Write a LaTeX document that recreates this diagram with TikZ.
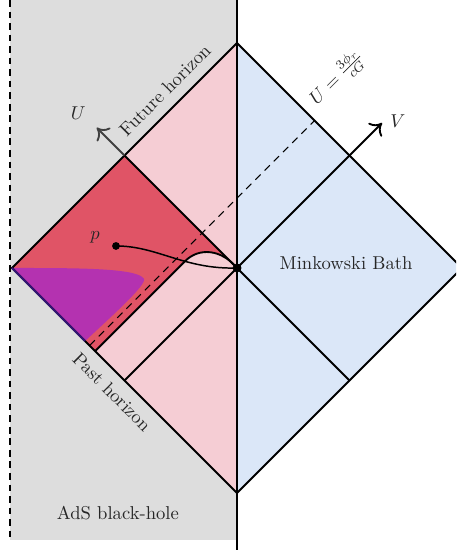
\documentclass[tikz,border=0pt]{standalone}
\usepackage{amsmath,amssymb}
\usetikzlibrary{arrows.meta,calc}
\definecolor{bhgray}{RGB}{221,221,221}
\definecolor{adspink}{RGB}{245,205,212}
\definecolor{bathblue}{RGB}{219,231,248}
\definecolor{islandred}{RGB}{224,84,102}
\definecolor{qesviolet}{RGB}{180,50,176}
\definecolor{qesedge}{RGB}{52,22,118}
\tikzset{
  edge/.style={black,line width=1pt},
  cutoff/.style={black,line width=1.1pt,dash pattern=on 3.6pt off 2.6pt},
  lightray/.style={black,line width=0.5pt,dash pattern=on 4pt off 3pt},
  axis/.style={-{To[length=2mm,width=3.6mm]},line width=1pt},
  geodesic/.style={black,line width=0.8pt},
  dot/.style={circle,fill=black,inner sep=0pt,minimum size=#1},
  lab/.style={font=\normalsize,text=black!85},
}
\begin{document}
\begin{tikzpicture}[x=1cm,y=1cm]
  \useasboundingbox (-4.477,-5.327) rectangle (4.137,5.062);
  \clip (-4.477,-5.327) rectangle (4.137,5.062);

  \coordinate (O) at (0,0);
  \coordinate (top) at (0,4.25);
  \coordinate (bottom) at (0,-4.25);
  \coordinate (left) at (-4.25,0);
  \coordinate (right) at (4.25,0);
  \coordinate (islandtop) at (-2.125,2.125);
  \coordinate (islandbot) at (-2.125,-2.125);
  \coordinate (bathbot) at (2.125,-2.125);
  \coordinate (qes) at (-0.98,0.13);
  \coordinate (pastA) at (-2.68,-1.57);
  \coordinate (pastP) at (-2.87,-1.38);
  \coordinate (rayin) at (-2.785,-1.465);
  \coordinate (rayout) at (1.465,2.785);
  \coordinate (utip) at (-2.65,2.65);
  \coordinate (vtip) at (2.74,2.74);
  \coordinate (walltop) at (0,5.062);
  \coordinate (wallbot) at (0,-5.327);
  \coordinate (adstop) at (-4.288,5.062);
  \coordinate (adsbot) at (-4.288,-5.138);

  \fill[bhgray] (adsbot) rectangle (walltop);
  \fill[adspink] (top) -- (left) -- (bottom) -- cycle;
  \fill[bathblue] (top) -- (right) -- (bottom) -- cycle;
  \fill[islandred] (left) -- (islandtop) -- (O)
    .. controls (-0.3,0.36) and (-0.72,0.39) .. (qes) -- (pastA) -- cycle;
  \fill[qesviolet] (left) .. controls (-3.0,0.0) and (-1.9,0.0) .. (-1.76,-0.2)
    .. controls (-1.69,-0.3) and (-2.3,-0.85) .. (pastP) -- cycle;

  \draw[cutoff] (adstop) -- (adsbot);
  \draw[edge] (walltop) -- (wallbot);
  \draw[edge] (top) -- (left) -- (bottom) -- (right) -- cycle;
  \draw[qesedge,line width=1pt] (left) -- (pastP);
  \draw[edge] (islandtop) -- (O) -- (islandbot);
  \draw[edge] (O) -- (bathbot);
  \draw[edge] (pastA) -- (qes) .. controls (-0.72,0.39) and (-0.3,0.36) .. (O);
  \draw[lightray] (rayin) -- (rayout);
  \draw[axis] (O) -- (vtip);
  \draw[axis,black!75] (islandtop) -- (utip);

  \node[dot=4.2pt] (p) at (-2.286,0.416) {};
  \node[dot=4.8pt] (horizon) at (O) {};
  \draw[geodesic] (p.center) .. controls (-1.5,0.416) and (-1.0,-0.03) .. (horizon.center);

  \node[lab] (plab) at (-2.68,0.586) {$p$};
  \node[lab] (ulab) at (-3.0,2.93) {$U$};
  \node[lab] (vlab) at (3.04,2.78) {$V$};
  \node[lab,rotate=45] (future) at (-1.36,3.36) {Future horizon};
  \node[lab,rotate=-45] (past) at (-2.36,-2.34) {Past horizon};
  \node[lab,rotate=45] (shock) at (1.89,3.59) {$U=\frac{3\phi_r}{cG}$};
  \node[lab] (bath) at (2.06,0.094) {Minkowski Bath};
  \node[lab] (adsbh) at (-2.25,-4.63) {AdS black-hole};
\end{tikzpicture}
\end{document}
